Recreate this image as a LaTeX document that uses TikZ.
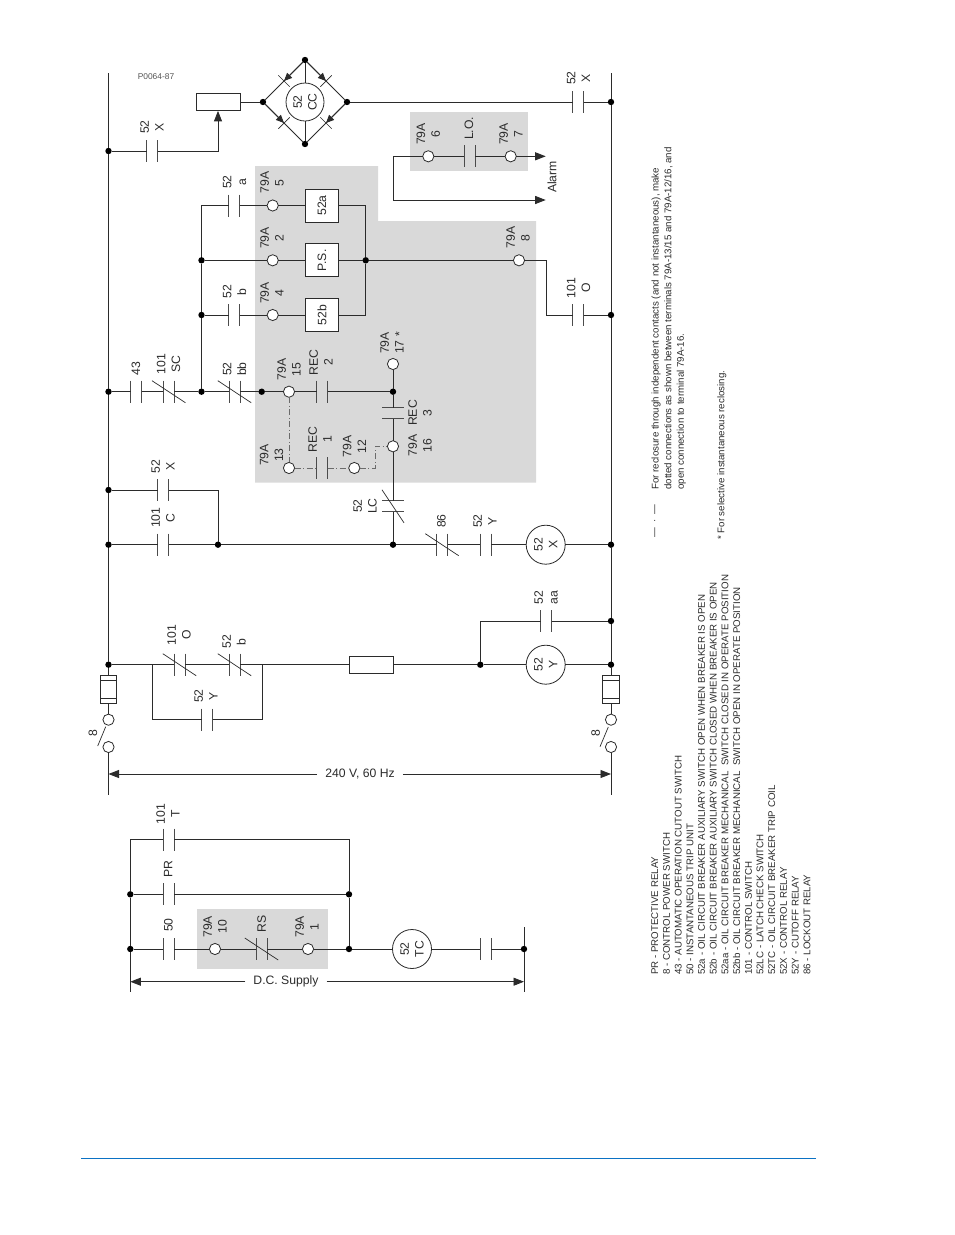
\documentclass[tikz,border=0pt]{standalone}
\usepackage{fontspec}
\setmainfont{Liberation Sans}
\usetikzlibrary{arrows.meta,calc}
\definecolor{ink}{HTML}{2B2B2B}
\definecolor{areagrey}{HTML}{D9D9D9}
\definecolor{rulecol}{HTML}{0B72C4}
\tikzset{
 wire/.style={draw=ink,line width=0.85pt,line join=miter},
 barline/.style={draw=ink!85,line width=0.9pt},
 slashline/.style={draw=ink,line width=0.7pt},
 dashwire/.style={draw=ink!70,line width=0.7pt,dash pattern=on 6pt off 2.5pt on 1pt off 2.5pt},
 jdot/.style={circle,fill=black,draw=none,minimum size=6.4pt,inner sep=0pt,outer sep=0pt},
 term/.style={circle,fill=white,draw=ink,line width=0.8pt,minimum size=11.2pt,inner sep=0pt,outer sep=0pt},
 coil/.style={circle,fill=white,draw=ink,line width=0.8pt,minimum size=39pt,inner sep=0pt,outer sep=0pt,rotate=90,align=center,font=\lblfont,text=ink},
 lbl/.style={rotate=90,align=center,inner sep=0pt,font=\lblfont,text=ink},
 boxn/.style={draw=ink,fill=white,line width=0.9pt,minimum width=33pt,minimum height=33pt,inner sep=0pt,outer sep=0pt,rotate=90,font=\lblfont,text=ink},
 plainbox/.style={draw=ink,fill=white,line width=0.9pt,inner sep=0pt,outer sep=0pt},
 notes/.style={rotate=90,anchor=north west,align=left,inner sep=0pt,text=ink},
 arrowed/.style={wire,-{Triangle[length=10.5pt,width=8pt]}},
}
\newcommand{\lblfont}{\fontsize{12.2}{14.8}\selectfont}
\newcommand{\hcon}[3]{%
 \coordinate (#1-a) at (#2-5.5,#3); \coordinate (#1-b) at (#2+5.5,#3);
 \draw[barline] (#2-5.5,#3-11) -- (#2-5.5,#3+11);
 \draw[barline] (#2+5.5,#3-11) -- (#2+5.5,#3+11);}
\newcommand{\hnc}[3]{\hcon{#1}{#2}{#3}%
 \draw[slashline] (#2-16.7,#3-11) -- (#2+16.7,#3+11);}
\newcommand{\vcon}[3]{%
 \coordinate (#1-a) at (#2,#3-5.5); \coordinate (#1-b) at (#2,#3+5.5);
 \draw[barline] (#2-11,#3-5.5) -- (#2+11,#3-5.5);
 \draw[barline] (#2-11,#3+5.5) -- (#2+11,#3+5.5);}
\newcommand{\vnc}[3]{\vcon{#1}{#2}{#3}%
 \draw[slashline] (#2-11,#3-16.5) -- (#2+11,#3+16.5);}
\newcommand{\diode}[2]{%
 \draw[wire] (#1) -- (#2);
 \coordinate (dm) at ($(#1)!0.5!(#2)$);
 \draw[wire,-{Triangle[length=8pt,width=7pt]}] (#1) -- (dm);
 \draw[slashline] ($(dm)!8pt!90:(#2)$) -- ($(dm)!8pt!-90:(#2)$);}
\newcommand{\fuse}[3]{% name, x, top y
 \node[plainbox,minimum width=16.6pt,minimum height=28pt] (#1) at (#2,#3+14) {};
 \draw[slashline] (#2-8.3,#3+5) -- (#2+8.3,#3+5);
 \draw[slashline] (#2-8.3,#3+23) -- (#2+8.3,#3+23);}
\begin{document}
\begin{tikzpicture}[x=1pt,y=-1pt]
\useasboundingbox (0,0) rectangle (954,1235);
% shaded areas
\fill[areagrey] (255,166) -- (378,166) -- (378,221) -- (536,221) -- (536,482.7) -- (255,482.7) -- cycle;
\fill[areagrey] (410.3,111.7) rectangle (527.7,171.3);
\fill[areagrey] (197.3,909) rectangle (328.3,969.3);
% coordinates
\coordinate (Ltop) at (108.5,73); \coordinate (Lbot) at (108.5,795);
\coordinate (Rtop) at (611,73); \coordinate (Rbot) at (611,795);
% contacts
\hcon{cx1}{152}{151}
\hcon{ca}{234}{205.5}
\hcon{cb}{234}{315}
\hcon{cxr}{578}{102}
\hcon{co}{578}{315}
\hcon{c43}{136}{391.7}
\hnc{c101}{168.7}{391.7}
\hnc{cbb}{234.5}{391.7}
\hcon{rec2}{322}{391.7}
\vcon{rec3}{393}{413.3}
\hcon{rec1}{322}{468}
\vnc{clc}{393}{506.3}
\hcon{cx2}{163.3}{490}
\hcon{cc}{163.3}{544.7}
\hnc{c86}{442}{544.7}
\hcon{cy1}{485.7}{544.7}
\hnc{co2}{179.5}{664.7}
\hnc{cb2}{234.5}{664.7}
\hcon{cy2}{207}{719.7}
\hcon{caa}{546}{621}
\hcon{lo}{469.5}{156.3}
\hcon{ct}{168.7}{839.7}
\hcon{cpr}{168.7}{894.3}
\hcon{c50}{168.7}{949}
\hnc{crs}{261.5}{949}
\hcon{cdc}{485.8}{949}
% top bridge
\node[plainbox,minimum width=44pt,minimum height=17.7pt] (rect) at (218,102) {};
\node[jdot] (bl) at (263,102) {};
\node[jdot] (bt) at (305,60) {};
\node[jdot] (br) at (347,102) {};
\node[jdot] (bb) at (305,144) {};
\node[coil,minimum size=38pt] (ccoil) at (305,102) {52\\CC};
\diode{bt}{bl}
\diode{bt}{br}
\diode{bl}{bb}
\diode{br}{bb}
\draw[wire] (bt) -- (ccoil); \draw[wire] (bb) -- (ccoil);
\draw[wire] (rect) -- (bl);
\node[jdot] (r102) at (611,102) {};
\draw[wire] (br) -- (cxr-a); \draw[wire] (cxr-b) -- (r102);
\node[jdot] (l151) at (108.5,151) {};
\coordinate (k1) at (218,151);
\draw[wire] (l151) -- (cx1-a);
\draw[arrowed] (cx1-b) -- (k1) -- (rect.south);
% 52a / PS / 52b
\node[term] (t5) at (272.7,205.5) {};
\node[term] (t2) at (272.7,260.3) {};
\node[term] (t4) at (272.7,315) {};
\node[boxn] (b52a) at (322,205.5) {52a};
\node[boxn] (bps) at (322,260.3) {P.S.};
\node[boxn] (b52b) at (322,315) {52b};
\coordinate (k2) at (201.5,205.5);
\node[jdot] (j260) at (201.5,260.3) {};
\node[jdot] (j315) at (201.5,315) {};
\node[jdot] (j392a) at (201.5,391.7) {};
\draw[wire] (ca-a) -- (k2) -- (j260) -- (j315) -- (j392a);
\draw[wire] (ca-b) -- (t5) -- (b52a);
\draw[wire] (j260) -- (t2) -- (bps);
\draw[wire] (j315) -- (cb-a); \draw[wire] (cb-b) -- (t4) -- (b52b);
\node[jdot] (j365) at (365.7,260.3) {};
\coordinate (k3) at (365.7,205.5); \coordinate (k4) at (365.7,315);
\draw[wire] (b52a) -- (k3) -- (j365) -- (k4) -- (b52b);
\draw[wire] (bps) -- (j365);
\node[term] (t8) at (519,260.3) {};
\draw[wire] (j365) -- (t8);
\coordinate (k5) at (546,260.3); \coordinate (k6) at (546,315);
\node[jdot] (r315) at (611,315) {};
\draw[wire] (t8) -- (k5) -- (k6) -- (co-a); \draw[wire] (co-b) -- (r315);
% alarm
\node[term] (t6) at (428.3,156.3) {};
\node[term] (t7) at (510.7,156.3) {};
\coordinate (al1) at (545.7,156.3); \coordinate (al2) at (545.7,200);
\coordinate (k7) at (393,156.3); \coordinate (k8) at (393,200);
\draw[wire] (t6) -- (lo-a); \draw[wire] (lo-b) -- (t7);
\draw[arrowed] (t7) -- (al1);
\draw[arrowed] (t6) -- (k7) -- (k8) -- (al2);
% row 392
\node[jdot] (l392) at (108.5,391.7) {};
\node[jdot] (j262) at (261.7,391.7) {};
\node[term] (t15) at (289,391.7) {};
\node[jdot] (j393) at (393,391.7) {};
\node[term] (t17) at (393,364) {};
\node[term] (t16) at (393,446.3) {};
\node[term] (t13) at (289,468) {};
\node[term] (t12) at (354.3,468) {};
\draw[wire] (l392) -- (c43-a); \draw[wire] (c43-b) -- (c101-a); \draw[wire] (c101-b) -- (j392a) -- (cbb-a);
\draw[wire] (cbb-b) -- (j262) -- (t15) -- (rec2-a); \draw[wire] (rec2-b) -- (j393);
\draw[wire] (t17) -- (j393) -- (rec3-a); \draw[wire] (rec3-b) -- (t16) -- (clc-a);
\coordinate (k9) at (375.3,468); \coordinate (k10) at (375.3,446.3);
\draw[dashwire] (t15) -- (t13);
\draw[dashwire] (t13) -- (rec1-a);
\draw[dashwire] (rec1-b) -- (t12);
\draw[dashwire] (t12) -- (k9) -- (k10) -- (t16);
% row 545
\node[jdot] (l490) at (108.5,490) {};
\node[jdot] (l545) at (108.5,544.7) {};
\node[jdot] (j218) at (218,544.7) {};
\node[jdot] (j393b) at (393,544.7) {};
\node[coil] (cx) at (545.7,544.7) {52\\X};
\node[jdot] (r545) at (611,544.7) {};
\coordinate (k11) at (218,490);
\draw[wire] (l490) -- (cx2-a); \draw[wire] (cx2-b) -- (k11) -- (j218);
\draw[wire] (l545) -- (cc-a); \draw[wire] (cc-b) -- (j218) -- (j393b) -- (c86-a);
\draw[wire] (clc-b) -- (j393b);
\draw[wire] (c86-b) -- (cy1-a); \draw[wire] (cy1-b) -- (cx) -- (r545);
% row 665
\node[jdot] (l665) at (108.5,664.7) {};
\coordinate (k12) at (152.3,664.7); \coordinate (k13) at (152.3,719.7);
\coordinate (k14) at (262,664.7); \coordinate (k15) at (262,719.7);
\node[plainbox,minimum width=44pt,minimum height=17pt] (res) at (371.3,664.7) {};
\node[jdot] (j480) at (480.3,664.7) {};
\node[coil] (cy) at (545.7,664.7) {52\\Y};
\node[jdot] (r665) at (611,664.7) {};
\node[jdot] (r621) at (611,621) {};
\coordinate (k16) at (480.3,621);
\draw[wire] (l665) -- (k12) -- (co2-a); \draw[wire] (co2-b) -- (cb2-a); \draw[wire] (cb2-b) -- (k14) -- (res);
\draw[wire] (k12) -- (k13) -- (cy2-a); \draw[wire] (cy2-b) -- (k15) -- (k14);
\draw[wire] (res) -- (j480) -- (cy) -- (r665);
\draw[wire] (j480) -- (k16) -- (caa-a); \draw[wire] (caa-b) -- (r621);
% fuses and switches
\fuse{fl}{108.5}{675.3}
\fuse{fr}{611}{675.3}
\node[term] (sl1) at (108.5,719.7) {};
\node[term] (sl2) at (108.5,747) {};
\node[term] (sr1) at (611,719.7) {};
\node[term] (sr2) at (611,747) {};
\draw[wire] (l665) -- (fl); \draw[wire] (fl) -- (sl1);
\draw[wire] (r665) -- (fr); \draw[wire] (fr) -- (sr1);
\coordinate (swl1) at (97.7,746); \coordinate (swl2) at (105.7,726.7);
\coordinate (swr1) at (600,746.7); \coordinate (swr2) at (608.3,727);
\draw[slashline] (swl1) -- (swl2); \draw[slashline] (swr1) -- (swr2);
% buses
\draw[wire] (Ltop) -- (l151) -- (l392) -- (l490) -- (l545) -- (l665);
\draw[wire] (sl2) -- (Lbot);
\draw[wire] (Rtop) -- (r102) -- (r315) -- (r545) -- (r621) -- (r665);
\draw[wire] (sr2) -- (Rbot);
% dimension 240 V
\node[inner xsep=8pt,inner ysep=0pt,font=\lblfont,text=ink] (dim1) at (360,774) {240 V, 60 Hz};
\coordinate (d1l) at (108.5,774); \coordinate (d1r) at (611,774);
\draw[arrowed] (dim1.west) -- (d1l);
\draw[arrowed] (dim1.east) -- (d1r);
% d.c. part
\coordinate (dtop) at (130.3,839.7); \coordinate (dbot) at (130.3,992);
\node[jdot] (d894) at (130.3,894.3) {};
\node[jdot] (d949) at (130.3,949) {};
\coordinate (e840) at (349,839.7);
\node[jdot] (e894) at (349,894.3) {};
\node[jdot] (e949) at (349,949) {};
\node[term] (t10) at (215,949) {};
\node[term] (t1) at (308,949) {};
\node[coil] (tc) at (412,949) {52\\TC};
\node[jdot] (f949) at (524,949) {};
\coordinate (ftop) at (524,927); \coordinate (fbot) at (524,992);
\draw[wire] (dtop) -- (d894) -- (d949) -- (dbot);
\draw[wire] (dtop) -- (ct-a); \draw[wire] (ct-b) -- (e840) -- (e894) -- (e949);
\draw[wire] (d894) -- (cpr-a); \draw[wire] (cpr-b) -- (e894);
\draw[wire] (d949) -- (c50-a); \draw[wire] (c50-b) -- (t10) -- (crs-a);
\draw[wire] (crs-b) -- (t1) -- (e949) -- (tc) -- (cdc-a); \draw[wire] (cdc-b) -- (f949);
\draw[wire] (ftop) -- (f949) -- (fbot);
\node[inner xsep=8pt,inner ysep=0pt,font=\lblfont,text=ink] (dim2) at (286,981.7) {D.C. Supply};
\coordinate (d2l) at (130.3,981.7); \coordinate (d2r) at (524,981.7);
\draw[arrowed] (dim2.west) -- (d2l);
\draw[arrowed] (dim2.east) -- (d2r);
% labels
\node[inner sep=0pt,text=ink!80,font=\fontsize{8.4}{10}\selectfont] (pn) at (156,77) {P0064-87};
\node[lbl] (l1) at (152,127) {52\\X};
\node[lbl] (l2) at (234.5,182) {52\\a};
\node[lbl] (l3) at (272,182.7) {79A\\5};
\node[lbl] (l4) at (272,238) {79A\\2};
\node[lbl] (l5) at (234.5,291.7) {52\\b};
\node[lbl] (l6) at (272,293) {79A\\4};
\node[lbl] (l7) at (578.5,78) {52\\X};
\node[lbl] (l8) at (428.3,134) {79A\\6};
\node[lbl] (l9) at (469,128.3) {L.O.};
\node[lbl] (l10) at (511,134) {79A\\7};
\node[lbl] (l11) at (518,237.7) {79A\\8};
\node[lbl] (l12) at (578.5,288) {101\\O};
\node[lbl] (l13) at (392,343) {79A\\17 *};
\node[lbl] (l14) at (136,368.3) {43};
\node[lbl] (l15) at (168.5,364) {101\\SC};
\node[lbl] (l16) at (234.5,369) {52\\bb};
\node[lbl] (l17) at (289,369.3) {79A\\15};
\node[lbl] (l18) at (321,362.3) {REC\\2};
\node[lbl] (l19) at (420,413) {REC\\3};
\node[lbl] (l20) at (420,445.7) {79A\\16};
\node[lbl] (l21) at (271.5,455) {79A\\13};
\node[lbl] (l22) at (320,439.3) {REC\\1};
\node[lbl] (l23) at (354.5,446.7) {79A\\12};
\node[lbl] (l24) at (163,466.7) {52\\X};
\node[lbl] (l25) at (163,517.7) {101\\C};
\node[lbl] (l26) at (365,506) {52\\LC};
\node[lbl] (l27) at (441.3,521) {86};
\node[lbl] (l28) at (485,521) {52\\Y};
\node[lbl] (l29) at (179,635) {101\\O};
\node[lbl] (l30) at (234,641.7) {52\\b};
\node[lbl] (l31) at (206,696) {52\\Y};
\node[lbl] (l32) at (93,733) {8};
\node[lbl] (l33) at (595.7,732.7) {8};
\node[lbl] (l34) at (546,597.7) {52\\aa};
\node[lbl] (l35) at (168,814) {101\\T};
\node[lbl] (l36) at (168.3,869) {PR};
\node[lbl] (l37) at (168.3,925) {50};
\node[lbl] (l38) at (215,926.7) {79A\\10};
\node[lbl] (l39) at (261.7,924.3) {RS};
\node[lbl] (l40) at (307,926.7) {79A\\1};
\node[lbl] (l41) at (552,177) {Alarm};
% notes
\node[notes,font=\fontsize{9.72}{11.7}\selectfont] (legend) at (651.2,975) {PR - PROTECTIVE RELAY\\
8 - CONTROL POWER SWITCH\\
43 - AUTOMATIC OPERATION CUTOUT SWITCH\\
50 - INSTANTANEOUS TRIP UNIT\\
52a - OIL CIRCUIT BREAKER AUXILIARY SWITCH OPEN WHEN BREAKER IS OPEN\\
52b - OIL CIRCUIT BREAKER AUXILIARY SWITCH CLOSED WHEN BREAKER IS OPEN\\
52aa - OIL CIRCUIT BREAKER MECHANICAL\ \ SWITCH CLOSED IN OPERATE POSITION\\
52bb - OIL CIRCUIT BREAKER MECHANICAL\ \ SWITCH OPEN IN OPERATE POSITION\\
101 - CONTROL SWITCH\\
52LC - LATCH CHECK SWITCH\\
52TC - OIL CIRCUIT BREAKER TRIP COIL\\
52X - CONTROL RELAY\\
52Y - CUTOFF RELAY\\
86 - LOCKOUT RELAY};
\node[notes,font=\fontsize{9.72}{12.6}\selectfont] (note1) at (651.5,490) {For reclosure through independent contacts (and not instantaneous), make\\
dotted connections as shown between terminals 79A-13/15 and 79A-12/16, and\\
open connection to terminal 79A-16.};
\node[notes,font=\fontsize{9.72}{12}\selectfont] (note0) at (654,538) {—\ \ ·\ \ —};
\node[notes,font=\fontsize{9.72}{12}\selectfont] (note2) at (717,540) {* For selective instantaneous reclosing.};
% footer rule
\coordinate (rl) at (81,1158.3); \coordinate (rr) at (816,1158.3);
\draw[rulecol,line width=1.2pt] (rl) -- (rr);
\end{tikzpicture}
\end{document}
